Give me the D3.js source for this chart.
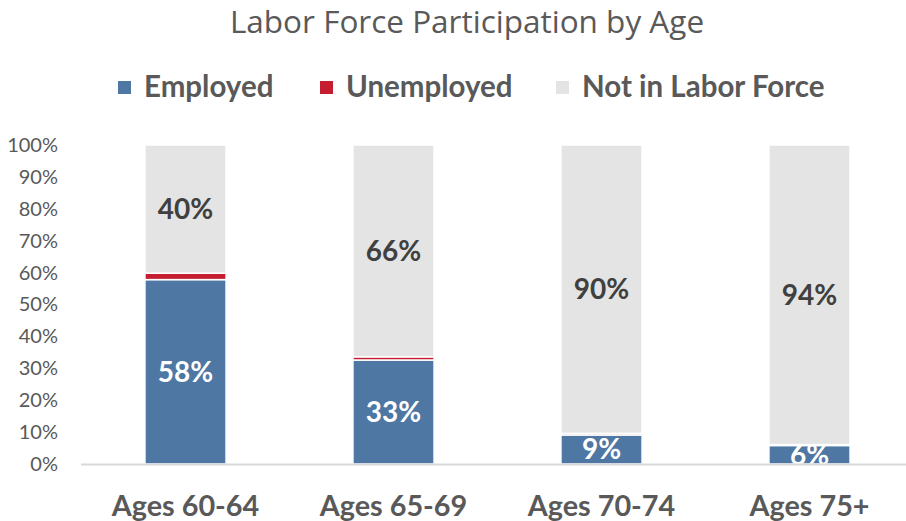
<!DOCTYPE html>
<html><head><meta charset="utf-8">
<script src="https://cdn.jsdelivr.net/npm/d3@7"></script>
<style>body{margin:0;background:#fff}svg{display:block}</style>
</head><body><svg id="c" width="906" height="521"></svg>
<script>
const categories = ["Ages 60-64", "Ages 65-69", "Ages 70-74", "Ages 75+"];
const employed = [57.8, 32.6, 9.1, 5.8];
const unemployed = [2.0, 1.0, 0.5, 0.3];
const notInLaborForce = [40.2, 66.4, 90.4, 93.9];
const seriesNames = ["Employed", "Unemployed", "Not in Labor Force"];
const yTicks = [0, 10, 20, 30, 40, 50, 60, 70, 80, 90, 100];

const colors = ["#4e77a3", "#c41e30", "#e4e4e4"];
const font = "Lato, 'Open Sans', sans-serif";
const svg = d3.select("#c");

const rows = categories.map((c, i) => ({cat: c, Employed: employed[i], Unemployed: unemployed[i], "Not in Labor Force": notInLaborForce[i]}));
const stacked = d3.stack().keys(seriesNames)(rows);

const x = d3.scaleBand().domain(categories).range([81.5, 913.5]).paddingInner(0.61).paddingOuter(0.305);
const y = d3.scaleLinear().domain([0, 100]).range([464, 145]);

// title
svg.append("text").attr("x", 467).attr("y", 33).attr("text-anchor", "middle")
  .attr("font-family", "'Open Sans', sans-serif").attr("font-size", 31.5).attr("fill", "#595959")
  .text("Labor Force Participation by Age");

// legend
const legX = [118, 320, 556];
seriesNames.forEach((n, i) => {
  const g = svg.append("g").attr("transform", `translate(${legX[i]},0)`);
  g.append("rect").attr("x", 0).attr("y", 81).attr("width", 13).attr("height", 13).attr("fill", colors[i]);
  g.append("text").attr("x", 26).attr("y", 97).attr("font-family", font).attr("font-weight", "bold")
    .attr("font-size", 29.5).attr("fill", "#595959").text(n);
});

// y axis labels
const yAxis = d3.axisLeft(y).tickValues(yTicks).tickFormat(d => d + "%").tickSize(0).tickPadding(0);
const ya = svg.append("g").attr("transform", "translate(58,0)").call(yAxis);
ya.select(".domain").remove();
ya.selectAll("text").attr("font-family", font).attr("font-size", 20).attr("fill", "#595959");

// clip for plot
svg.append("clipPath").attr("id", "pc").append("rect").attr("x", 0).attr("y", 0).attr("width", 906).attr("height", 464);

// bars
const bars = svg.append("g");
stacked.forEach((s, si) => {
  bars.selectAll(null).data(s).join("rect")
    .attr("x", d => x(d.data.cat)).attr("width", x.bandwidth())
    .attr("y", d => y(d[1])).attr("height", d => y(d[0]) - y(d[1]))
    .attr("fill", colors[si]).attr("stroke", "#fff").attr("stroke-width", 1.5);
});

// value labels
const lbl = svg.append("g").attr("clip-path", "url(#pc)");
[0, 2].forEach(si => {
  lbl.selectAll(null).data(stacked[si]).join("text")
    .attr("x", d => x(d.data.cat) + x.bandwidth() / 2)
    .attr("y", d => (y(d[0]) + y(d[1])) / 2 + 10)
    .attr("text-anchor", "middle").attr("font-family", font).attr("font-weight", "bold")
    .attr("font-size", 28).attr("fill", si === 0 ? "#fff" : "#404040")
    .text(d => d3.format(".0f")(d[1] - d[0]) + "%");
});

// x axis
const xAxis = d3.axisBottom(x).tickSize(0).tickPadding(0);
const xa = svg.append("g").attr("transform", "translate(0,464)").call(xAxis);
xa.select(".domain").remove();
svg.append("line").attr("x1", 81).attr("x2", 906).attr("y1", 464.5).attr("y2", 464.5)
  .attr("stroke", "#d9d9d9").attr("stroke-width", 2);
xa.selectAll("text").attr("dy", 0).attr("y", 52).attr("font-family", font).attr("font-weight", "bold")
  .attr("font-size", 28.8).attr("fill", "#595959");
</script></body></html>
